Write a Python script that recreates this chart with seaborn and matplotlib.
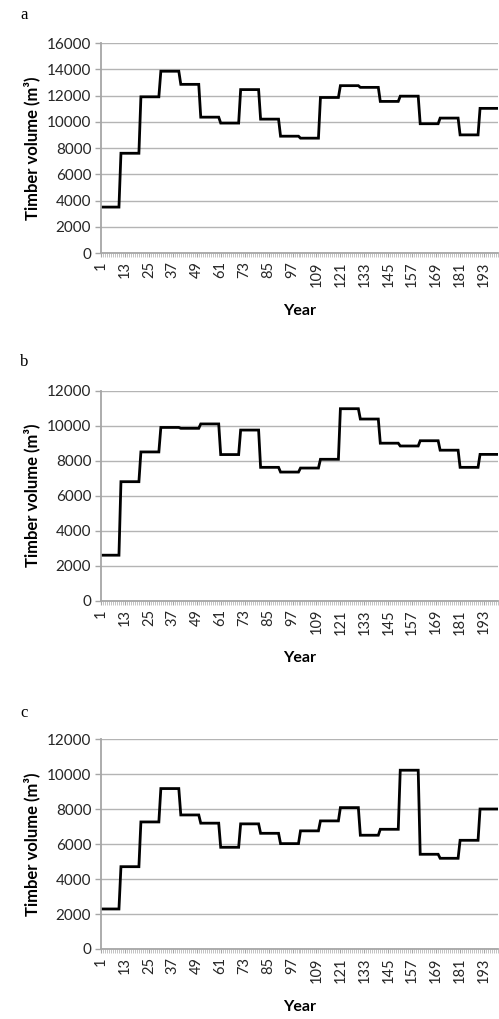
import numpy as np
import pandas as pd
import matplotlib
matplotlib.use("Agg")
import matplotlib.pyplot as plt
import seaborn as sns

# Timber volume (m3) per 10-year period, years 1-200
period_start = [1, 11, 21, 31, 41, 51, 61, 71, 81, 91,
                101, 111, 121, 131, 141, 151, 161, 171, 181, 191]
volume_a = [3500, 7600, 11900, 13850, 12850, 10350, 9900, 12450, 10200, 8900,
            8750, 11850, 12750, 12620, 11550, 11950, 9850, 10280, 9000, 11020]
volume_b = [2600, 6800, 8500, 9900, 9850, 10100, 8350, 9750, 7620, 7350,
            7580, 8080, 10970, 10380, 9000, 8840, 9140, 8600, 7620, 8360]
volume_c = [2290, 4710, 7270, 9180, 7670, 7200, 5820, 7160, 6620, 6030,
            6760, 7330, 8090, 6510, 6850, 10230, 5420, 5190, 6220, 8010]
period_length = 10
tick_years = list(range(1, 200, 12))
panel_letters = ["a", "b", "c"]
y_max = [16000, 12000, 12000]

sns.set_theme(style="white")
plt.rcParams["font.family"] = ["Lato", "DejaVu Sans"]

fig = plt.figure(figsize=(4.99, 10.19), dpi=100)
boxes = [
    (0.2024, 0.7517, 0.7956, 0.2061),
    (0.2024, 0.4105, 0.7956, 0.2061),
    (0.2024, 0.0687, 0.7956, 0.2058),
]
letter_y = [0.985, 0.645, 0.30]

grid_color = "#b4b4b4"
text_color = "#262626"

for vols, box, letter, ymax, ly in zip([volume_a, volume_b, volume_c], boxes,
                                       panel_letters, y_max, letter_y):
    ax = fig.add_axes(box)
    years = np.arange(1, len(vols) * period_length + 1)
    df = pd.DataFrame({"Year": years,
                       "Volume": np.repeat(vols, period_length)})
    sns.lineplot(data=df, x="Year", y="Volume", ax=ax, color="black",
                 linewidth=2.0, solid_joinstyle="miter")
    ax.set_xlim(1, 200)
    ax.set_ylim(0, ymax)
    ax.set_yticks(np.arange(0, ymax + 1, 2000))
    ax.set_yticklabels([str(v) for v in range(0, ymax + 1, 2000)],
                       fontsize=11, color=text_color)
    ax.set_xticks(tick_years)
    ax.set_xticklabels([str(t) for t in tick_years], rotation=90,
                       fontsize=10.5, color=text_color)
    ax.set_xticks(years, minor=True)
    ax.yaxis.grid(True, color=grid_color, linewidth=1.0)
    ax.xaxis.grid(False)
    for side in ["top", "right"]:
        ax.spines[side].set_visible(False)
    for side in ["left", "bottom"]:
        ax.spines[side].set_color("#a6a6a6")
        ax.spines[side].set_linewidth(1.3)
    ax.tick_params(axis="y", which="major", left=True, length=4,
                   color="#a6a6a6", width=1.0, pad=3)
    ax.tick_params(axis="x", which="major", bottom=True, length=3,
                   color="#a6a6a6", width=0.8, pad=3)
    ax.tick_params(axis="x", which="minor", bottom=True, length=3,
                   color="#b8b8b8", width=0.6)
    ax.set_xlabel("Year", fontsize=11.5, fontweight="bold", color="black",
                  labelpad=12)
    ax.set_ylabel("Timber volume (m\u00b3)", fontsize=12, fontweight="bold",
                  color="black", labelpad=5)
    fig.text(0.04, ly, letter, fontsize=12, family="Liberation Serif",
             color="black", va="center")

fig.savefig("out.png", dpi=100)
